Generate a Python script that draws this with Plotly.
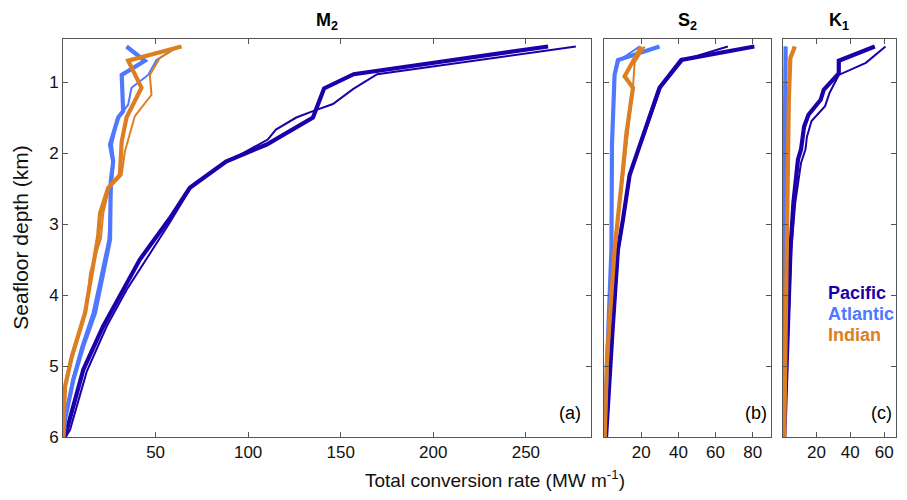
import plotly.graph_objects as go

# ---------------- data (depth in km, rate in MW m^-1) ----------------
# M2
m2_pac_thick_depth = [0.5, 0.89, 1.09, 1.5, 1.88, 2.12, 2.49, 2.92, 3.5, 4.44, 5.05, 5.94, 6.0]
m2_pac_thick_rate = [262, 157, 141, 135, 110, 88, 68.5, 57.7, 41.5, 21.7, 11, 2, 1]
m2_pac_thin_depth = [0.5, 0.89, 1.1, 1.31, 1.41, 1.5, 1.67, 1.81, 2.12, 2.49, 2.98, 3.27, 3.93, 4.44, 5.08, 5.9, 6.0]
m2_pac_thin_rate = [277, 169.7, 156.6, 145.8, 135, 126, 115, 110.6, 89, 69, 57.7, 50.5, 34.3, 23.6, 12.8, 3.8, 1.5]
m2_atl_thick_depth = [0.5, 0.7, 0.9, 1.41, 1.5, 1.88, 2.12, 2.4, 3.22, 3.83, 4.25, 4.72, 5.19, 5.75, 6.0]
m2_atl_thick_rate = [34.3, 44.2, 31.7, 32.5, 29.8, 25.4, 27.1, 25.8, 25.4, 20.9, 17.3, 10.9, 5.6, 1.1, 0.3]
m2_atl_thin_depth = [0.5, 0.69, 0.9, 1.08, 1.32, 1.5, 1.88, 2.12, 2.4, 3.22, 3.83, 4.25, 4.72, 5.19, 5.75, 6.0]
m2_atl_thin_rate = [62.2, 50.5, 46, 37, 35.2, 29.8, 26.5, 27.5, 26.5, 24.5, 19.5, 16, 10, 5, 1, 0.3]
m2_ind_thick_depth = [0.5, 0.7, 1.08, 1.5, 1.84, 2.31, 2.49, 2.85, 3.17, 4.25, 4.87, 5.29, 5.75, 6.0]
m2_ind_thick_rate = [64, 35.2, 42.4, 34.3, 31.7, 30.7, 24.4, 20, 19, 11.9, 4.7, 1.1, 0.3, 0]
m2_ind_thin_depth = [0.5, 0.66, 0.9, 1.18, 1.48, 1.74, 1.98, 2.31, 2.49, 2.85, 3.2, 3.69, 4.25, 4.87, 5.29, 5.75, 6.0]
m2_ind_thin_rate = [62, 52.3, 46.9, 47.8, 38.8, 36.1, 33.4, 31.7, 25, 21.7, 20.5, 14.6, 12.5, 5.2, 1.5, 0.4, 0]

# S2
s2_pac_thick_depth = [0.5, 0.69, 1.08, 1.88, 2.31, 2.94, 3.36, 4.5, 6.0]
s2_pac_thick_rate = [80.9, 41.5, 29.8, 19.1, 13.7, 10.1, 7.4, 4.5, 1]
s2_pac_thin_depth = [0.5, 0.69, 1.08, 1.88, 2.31, 2.94, 3.36, 4.5, 6.0]
s2_pac_thin_rate = [66.6, 42.5, 30.5, 19.6, 14.0, 10.4, 7.7, 4.7, 1]
s2_atl_thick_depth = [0.5, 0.69, 0.9, 1.88, 3.36, 5.0, 6.0]
s2_atl_thick_rate = [29.8, 7.4, 5.6, 4.2, 3.9, 1.2, 0]
s2_atl_thin_depth = [0.5, 0.7, 0.9, 1.88, 3.36, 5.0, 6.0]
s2_atl_thin_rate = [19, 8, 5.8, 4.4, 3.9, 1.2, 0]
s2_ind_thick_depth = [0.5, 0.92, 1.08, 1.74, 2.24, 3.36, 4.9, 6.0]
s2_ind_thick_rate = [20, 11, 15.5, 11.9, 10.1, 5.6, 1.5, 0.3]
s2_ind_thin_depth = [0.5, 0.73, 1.08, 1.74, 2.24, 3.36, 4.9, 6.0]
s2_ind_thin_rate = [21.8, 16.4, 15.5, 12.5, 10.5, 5.8, 1.5, 0.3]

# K1
k1_pac_thick_depth = [0.5, 0.7, 0.88, 1.11, 1.25, 1.46, 1.63, 1.95, 2.09, 2.7, 3.34, 6.0]
k1_pac_thick_rate = [54.5, 33.2, 33.2, 24.3, 22.5, 15.3, 12.7, 10.9, 9.1, 6.4, 4.7, 1]
k1_pac_thin_depth = [0.5, 0.73, 0.9, 1.15, 1.34, 1.55, 1.77, 1.95, 2.14, 2.7, 3.34, 6.0]
k1_pac_thin_rate = [60.8, 49.2, 33.2, 27.8, 25.1, 17.1, 14.4, 13.5, 10.9, 7.5, 5.2, 1]
k1_atl_thick_depth = [0.5, 1.0, 3.0, 6.0]
k1_atl_thick_rate = [1.8, 1.6, 1.0, 0]
k1_atl_thin_depth = [0.5, 1.0, 3.0, 6.0]
k1_atl_thin_rate = [1.5, 1.4, 0.9, 0]
k1_ind_thick_depth = [0.5, 0.66, 1.25, 3.0, 6.0]
k1_ind_thick_rate = [7.3, 4.6, 3.7, 2.5, 1]
k1_ind_thin_depth = [0.5, 0.7, 1.25, 3.0, 6.0]
k1_ind_thin_rate = [6.5, 4.4, 3.6, 2.4, 1]

panel_titles = ["<b>M<sub>2</sub></b>", "<b>S<sub>2</sub></b>", "<b>K<sub>1</sub></b>"]
panel_letters = ["(a)", "(b)", "(c)"]
y_ticks = [1, 2, 3, 4, 5, 6]
x_ticks = [[50, 100, 150, 200, 250], [20, 40, 60, 80], [20, 40, 60]]
ocean_names = ["Pacific", "Atlantic", "Indian"]

# ---------------- styles ----------------
COL = {"Pacific": "#1c00aa", "Atlantic": "#5078ff", "Indian": "#dc7e22"}
THICK, THIN = 4.2, 2.0
FONT = "Liberation Sans, Arial, Helvetica, sans-serif"

series = [
    (1, "Pacific", True, m2_pac_thick_depth, m2_pac_thick_rate),
    (1, "Pacific", False, m2_pac_thin_depth, m2_pac_thin_rate),
    (1, "Atlantic", True, m2_atl_thick_depth, m2_atl_thick_rate),
    (1, "Atlantic", False, m2_atl_thin_depth, m2_atl_thin_rate),
    (1, "Indian", True, m2_ind_thick_depth, m2_ind_thick_rate),
    (1, "Indian", False, m2_ind_thin_depth, m2_ind_thin_rate),
    (2, "Pacific", True, s2_pac_thick_depth, s2_pac_thick_rate),
    (2, "Pacific", False, s2_pac_thin_depth, s2_pac_thin_rate),
    (2, "Atlantic", True, s2_atl_thick_depth, s2_atl_thick_rate),
    (2, "Atlantic", False, s2_atl_thin_depth, s2_atl_thin_rate),
    (2, "Indian", True, s2_ind_thick_depth, s2_ind_thick_rate),
    (2, "Indian", False, s2_ind_thin_depth, s2_ind_thin_rate),
    (3, "Pacific", True, k1_pac_thick_depth, k1_pac_thick_rate),
    (3, "Pacific", False, k1_pac_thin_depth, k1_pac_thin_rate),
    (3, "Atlantic", True, k1_atl_thick_depth, k1_atl_thick_rate),
    (3, "Atlantic", False, k1_atl_thin_depth, k1_atl_thin_rate),
    (3, "Indian", True, k1_ind_thick_depth, k1_ind_thick_rate),
    (3, "Indian", False, k1_ind_thin_depth, k1_ind_thin_rate),
]

fig = go.Figure()
for ax, ocean, thick, d, r in series:
    sfx = "" if ax == 1 else str(ax)
    fig.add_trace(go.Scatter(
        x=r, y=d, mode="lines", xaxis="x" + sfx, yaxis="y" + sfx,
        line=dict(color=COL[ocean], width=THICK if thick else THIN),
        showlegend=False, hoverinfo="skip"))

# page has an 8px body margin; layout is given in page pixels then offset
OFF = 8
ML = 63            # page x of plot left
PT = 39.3          # page y of plot top
PB = 437.3         # page y of plot bottom
PR = 896.5         # page x of plot right
PW = PR - ML
PH = PB - PT
FW, FH = 907 - 2 * OFF, 500 - 2 * OFF
domains = [[0, (591 - ML) / PW], [(604.5 - ML) / PW, (771.7 - ML) / PW], [(783 - ML) / PW, 1.0]]
xranges = [[0, 285], [0, 90], [0, 67]]

axis_common = dict(showline=True, linecolor="#555555", linewidth=1, mirror="ticks",
                   ticks="inside", ticklen=5, tickcolor="#555555", showgrid=False,
                   zeroline=False, ticklabeloverflow="allow",
                   tickfont=dict(family=FONT, size=17, color="#111111"))

layout = dict(width=FW, height=FH, plot_bgcolor="white", paper_bgcolor="white",
              margin=dict(l=ML - OFF, r=max(0, FW - (PR - OFF)), t=PT - OFF, b=FH - (PB - OFF),
                          autoexpand=False),
              showlegend=False)
for i in range(3):
    sfx = "" if i == 0 else str(i + 1)
    layout["xaxis" + sfx] = dict(axis_common, domain=domains[i], range=xranges[i],
                                 tickvals=x_ticks[i], anchor="y" + sfx)
    layout["yaxis" + sfx] = dict(axis_common, domain=[0, 1], range=[6, 0.394],
                                 tickvals=y_ticks, anchor="x" + sfx,
                                 showticklabels=(i == 0))
fig.update_layout(**layout)


def px(x):
    return (x - ML) / PW


def py(y):
    return (PB - y) / PH


ann = []
for i in range(3):
    sfx = "" if i == 0 else str(i + 1)
    ann.append(dict(text=panel_titles[i], xref="x" + sfx + " domain", yref="paper",
                    x=0.5, y=1, yanchor="bottom", yshift=4, showarrow=False,
                    font=dict(family=FONT, size=18, color="black")))
    ann.append(dict(text=panel_letters[i], xref="x" + sfx + " domain", yref="y" + sfx + " domain",
                    x=0.985, y=0.03, xanchor="right", yanchor="bottom", showarrow=False,
                    font=dict(family=FONT, size=18, color="black")))
legend_y = [293, 314, 335]
for name, ly in zip(ocean_names, legend_y):
    ann.append(dict(text="<b>" + name + "</b>", xref="paper", yref="paper",
                    x=px(826), y=py(ly), xanchor="left", yanchor="middle",
                    showarrow=False, font=dict(family=FONT, size=18, color=COL[name])))
ann.append(dict(text="Total conversion rate (MW m<sup>-1</sup>)", xref="paper", yref="paper",
                x=px(495), y=py(479), xanchor="center", yanchor="middle",
                showarrow=False, font=dict(family=FONT, size=19, color="#111111")))
ann.append(dict(text="Seafloor depth (km)", xref="paper", yref="paper", textangle=-90,
                x=px(21), y=py(238), xanchor="center", yanchor="middle",
                showarrow=False, font=dict(family=FONT, size=21, color="#111111")))
fig.update_layout(annotations=ann)

fig.write_html("out.html")
